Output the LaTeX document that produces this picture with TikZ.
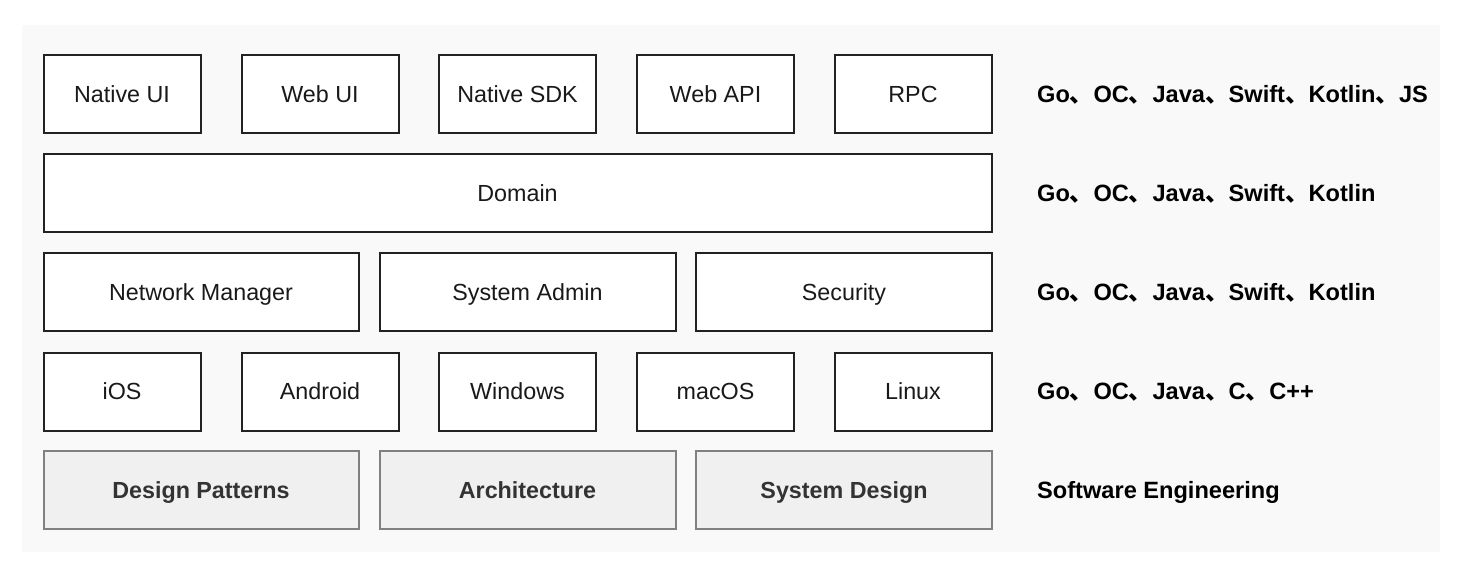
\documentclass[tikz,border=0pt]{standalone}
\usepackage{fontspec}
\setmainfont{Liberation Sans}
\newfontfamily\cjk{Noto Sans CJK SC}
\newcommand\dun{{\cjk 、}}
\definecolor{panel}{HTML}{F9F9F9}
\definecolor{boxline}{HTML}{222222}
\definecolor{grayfill}{HTML}{F0F0F0}
\definecolor{grayline}{HTML}{808080}
\definecolor{graytext}{HTML}{333333}
\begin{document}
\begin{tikzpicture}[x=1pt,y=-1pt,
  box/.style={draw=boxline, line width=2pt, fill=white, inner sep=0pt,
    minimum height=78pt, font=\fontsize{23.3}{27}\selectfont, text=black!90,
    text height=21pt, text depth=4.3pt},
  w1/.style={minimum width=157pt},
  w3/.style={minimum width=#1},
  gbox/.style={box, draw=grayline, fill=grayfill, text=graytext,
    font=\fontsize{23.3}{27}\selectfont\bfseries},
  lang/.style={anchor=west, inner sep=0pt, font=\fontsize{23.6}{27}\selectfont\bfseries,
    text height=21pt, text depth=4.1pt}
]
\useasboundingbox (0,0) rectangle (1478,572);
\fill[white] (0,0) rectangle (1478,572);
\fill[panel] (22,25) rectangle (1440,552);
% row 1
\node[box,w1] (nui) at (122,94.5) {Native UI};
\node[box,w1] (wui) at (320,94.5) {Web UI};
\node[box,w1] (nsdk) at (517.5,94.5) {Native SDK};
\node[box,w1] (wapi) at (715.5,94.5) {Web API};
\node[box,w1] (rpc) at (913,94.5) {RPC};
% row 2
\node[box,minimum width=948pt] (dom) at (517.5,193.5) {Domain};
% row 3
\node[box,w3=315pt] (net) at (201,292) {Network Manager};
\node[box,w3=296pt] (adm) at (527.5,292) {System Admin};
\node[box,w3=296pt] (sec) at (844,292) {Security};
% row 4
\node[box,w1] (ios) at (122,391.5) {iOS};
\node[box,w1] (andr) at (320,391.5) {Android};
\node[box,w1] (win) at (517.5,391.5) {Windows};
\node[box,w1] (mac) at (715.5,391.5) {macOS};
\node[box,w1] (lin) at (913,391.5) {Linux};
% row 5
\node[gbox,w3=315pt] (dp) at (201,490) {Design Patterns};
\node[gbox,w3=296pt] (arch) at (527.5,490) {Architecture};
\node[gbox,w3=296pt] (sd) at (844,490) {System Design};
% right labels
\node[lang] (l1) at (1037,94.5) {Go\dun OC\dun Java\dun Swift\dun Kotlin\dun JS};
\node[lang] (l2) at (1037,193.5) {Go\dun OC\dun Java\dun Swift\dun Kotlin};
\node[lang] (l3) at (1037,292) {Go\dun OC\dun Java\dun Swift\dun Kotlin};
\node[lang] (l4) at (1037,391.5) {Go\dun OC\dun Java\dun C\dun C++};
\node[lang] (l5) at (1037,490) {Software Engineering};
\end{tikzpicture}
\end{document}
